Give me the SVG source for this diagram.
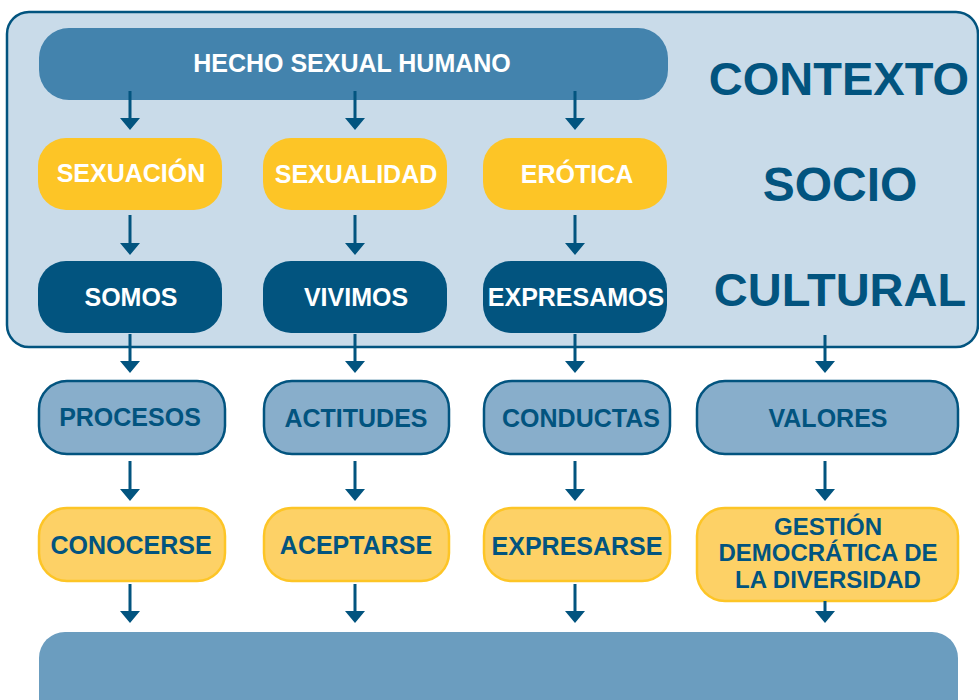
<svg xmlns="http://www.w3.org/2000/svg" width="979" height="700" viewBox="0 0 979 700">
<defs>
<style>
.t{font-family:"Liberation Sans",Arial,sans-serif;font-weight:bold;text-anchor:middle}
.w{fill:#ffffff;font-size:25px}
.d{fill:#02547f;font-size:25px}
.g{fill:#02547f;font-size:24px}
.big{fill:#02547f;font-size:47px}
.hech{fill:#4383ad}
.yel{fill:#fdc526}
.dark{fill:#02547f}
.lb{fill:#88aecb;stroke:#02547f;stroke-width:2.5}
.ly{fill:#fdd166;stroke:#fdc526;stroke-width:2.5}
.ar{stroke:#02547f;stroke-width:3;fill:none}
.ah{fill:#02547f}
</style>
</defs>
<rect id="contexto" x="7" y="12" width="971" height="335" rx="22" fill="#c9dbe9" stroke="#02547f" stroke-width="2.5"/>
<g id="ctx-label">
<text class="t big" x="839" y="95">CONTEXTO</text>
<text class="t big" x="840" y="201" style="font-size:48px">SOCIO</text>
<text class="t big" x="840" y="306">CULTURAL</text>
</g>
<g id="hecho"><rect class="hech" x="39" y="28" width="629" height="72" rx="30"/><text class="t w" x="352" y="72">HECHO SEXUAL HUMANO</text></g>
<g id="sexuacion"><rect class="yel" x="38" y="138" width="184" height="72" rx="28"/><text class="t w" x="131" y="182">SEXUACIÓN</text></g>
<g id="sexualidad"><rect class="yel" x="263" y="138" width="184" height="72" rx="28"/><text class="t w" x="356" y="183">SEXUALIDAD</text></g>
<g id="erotica"><rect class="yel" x="483" y="138" width="184" height="72" rx="28"/><text class="t w" x="577" y="183">ERÓTICA</text></g>
<g id="somos"><rect class="dark" x="38" y="261" width="184" height="72" rx="28"/><text class="t w" x="131" y="306">SOMOS</text></g>
<g id="vivimos"><rect class="dark" x="263" y="261" width="184" height="72" rx="28"/><text class="t w" x="356" y="306">VIVIMOS</text></g>
<g id="expresamos"><rect class="dark" x="483" y="261" width="184" height="72" rx="28"/><text class="t w" x="576" y="306">EXPRESAMOS</text></g>
<g id="procesos"><rect class="lb" x="39" y="381" width="186" height="73" rx="28"/><text class="t d" x="130" y="426">PROCESOS</text></g>
<g id="actitudes"><rect class="lb" x="264" y="381" width="185" height="73" rx="28"/><text class="t d" x="356" y="427">ACTITUDES</text></g>
<g id="conductas"><rect class="lb" x="484" y="381" width="186" height="73" rx="28"/><text class="t d" x="581" y="427">CONDUCTAS</text></g>
<g id="valores"><rect class="lb" x="697" y="381" width="261" height="73" rx="28"/><text class="t d" x="828" y="427">VALORES</text></g>
<g id="conocerse"><rect class="ly" x="39" y="508" width="186" height="73" rx="28"/><text class="t d" x="131" y="554">CONOCERSE</text></g>
<g id="aceptarse"><rect class="ly" x="264" y="508" width="185" height="73" rx="28"/><text class="t d" x="356" y="554">ACEPTARSE</text></g>
<g id="expresarse"><rect class="ly" x="484" y="508" width="186" height="73" rx="28"/><text class="t d" x="577" y="555">EXPRESARSE</text></g>
<g id="gestion"><rect class="ly" x="697" y="508" width="261" height="93" rx="28"/>
<text class="t g" x="828" y="535">GESTIÓN</text><text class="t g" x="828" y="561">DEMOCRÁTICA DE</text><text class="t g" x="828" y="588">LA DIVERSIDAD</text></g>
<g id="base"><rect x="39" y="632" width="919" height="100" rx="26" fill="#6b9dbf"/></g>
<g id="connectors">
<path class="ar" d="M130 91V119M355 91V119M575 91V119"/>
<path class="ah" d="M120 118h20l-10 12zM345 118h20l-10 12zM565 118h20l-10 12z"/>
<path class="ar" d="M130 215V244M355 215V244M575 215V244"/>
<path class="ah" d="M120 243h20l-10 12zM345 243h20l-10 12zM565 243h20l-10 12z"/>
<path class="ar" d="M130 334V362M355 334V362M575 334V362M825 335V362"/>
<path class="ah" d="M120 361h20l-10 12zM345 361h20l-10 12zM565 361h20l-10 12zM815 361h20l-10 12z"/>
<path class="ar" d="M130 461V490M355 461V490M575 461V490M825 461V490"/>
<path class="ah" d="M120 489h20l-10 12zM345 489h20l-10 12zM565 489h20l-10 12zM815 489h20l-10 12z"/>
<path class="ar" d="M130 584V612M355 584V612M575 584V612M825 601V612"/>
<path class="ah" d="M120 611h20l-10 12zM345 611h20l-10 12zM565 611h20l-10 12zM815 611h20l-10 12z"/>
</g>
</svg>
